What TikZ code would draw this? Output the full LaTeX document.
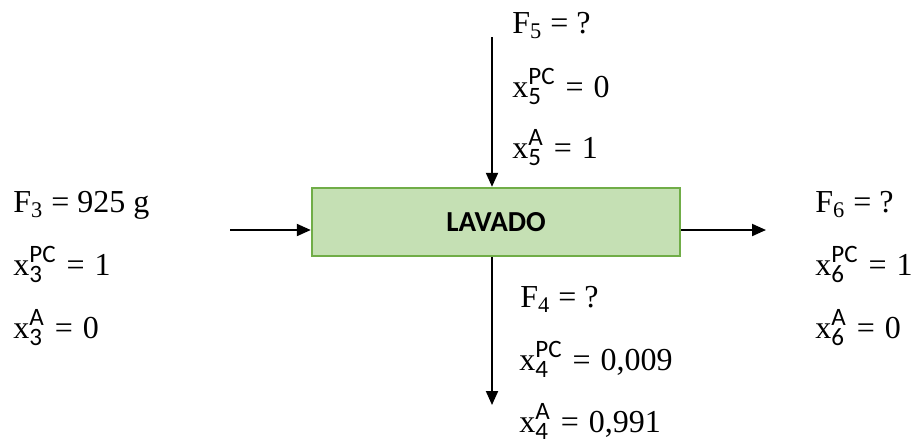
\documentclass[tikz,border=0pt]{standalone}
\usepackage{fontspec}
\setmainfont{Liberation Serif}
\newfontfamily\calfont{Carlito}
\usepackage{tikz}
\usetikzlibrary{arrows.meta,positioning}
\definecolor{BoxGreen}{HTML}{C5E0B4}
\definecolor{EdgeGreen}{HTML}{70AD47}
\newcommand{\scripts}[2]{\begingroup\calfont\fontsize{12.5}{13}\selectfont
  \setbox0=\hbox{#2}\setbox2=\hbox{#1}%
  \ifdim\wd0>\wd2 \dimen0=\wd0 \else \dimen0=\wd2 \fi
  \rlap{\raise6.5pt\box0}\rlap{\lower3.5pt\box2}\hspace{\dimen0}\endgroup}
\newcommand{\flux}[2]{\fontsize{16}{19}\selectfont F\textsubscript{#1} = #2}
\newcommand{\xfrac}[3]{\fontsize{16}{19}\selectfont x\scripts{#1}{#2}\hspace{5.5pt}=\hspace{5pt}#3}

\begin{document}
\begin{tikzpicture}[x=0.5pt,y=-0.5pt,
  flow/.style={line width=1pt,-{Triangle[length=7pt,width=6pt]}},
  lbl/.style={anchor=base west,inner sep=0pt}]
\useasboundingbox (0,0) rectangle (914,440);
\node[draw=EdgeGreen,line width=1.2pt,fill=BoxGreen,minimum width=184pt,minimum height=34pt,
      font=\calfont\bfseries\fontsize{14.5}{16}\selectfont] (lavado) at (496,222) {LAVADO};
% corrientes
\coordinate (in3) at (230,230);
\coordinate (out6) at (766,230);
\coordinate (in5) at (492,37);
\coordinate (out4) at (492,405);
\draw[flow] (in3) -- (lavado.west |- in3);
\draw[flow] (lavado.east |- out6) -- (out6);
\draw[flow] (in5) -- (lavado.north -| in5);
\draw[flow] (lavado.south -| out4) -- (out4);
% corriente 3
\node[lbl] (f3) at (13,212) {\flux{3}{925 g}};
\node[lbl] (x3pc) at (13,275) {\xfrac{3}{PC}{1}};
\node[lbl] (x3a) at (13,338) {\xfrac{3}{A}{0}};
% corriente 5
\node[lbl] (f5) at (512,33) {\flux{5}{?}};
\node[lbl] (x5pc) at (512,97) {\xfrac{5}{PC}{0}};
\node[lbl] (x5a) at (512,158) {\xfrac{5}{A}{1}};
% corriente 4
\node[lbl] (f4) at (520,307) {\flux{4}{?}};
\node[lbl] (x4pc) at (519,370) {\xfrac{4}{PC}{0,009}};
\node[lbl] (x4a) at (519,432) {\xfrac{4}{A}{0,991}};
% corriente 6
\node[lbl] (f6) at (815,212) {\flux{6}{?}};
\node[lbl] (x6pc) at (815,275) {\xfrac{6}{PC}{1}};
\node[lbl] (x6a) at (815,338) {\xfrac{6}{A}{0}};
\end{tikzpicture}
\end{document}
